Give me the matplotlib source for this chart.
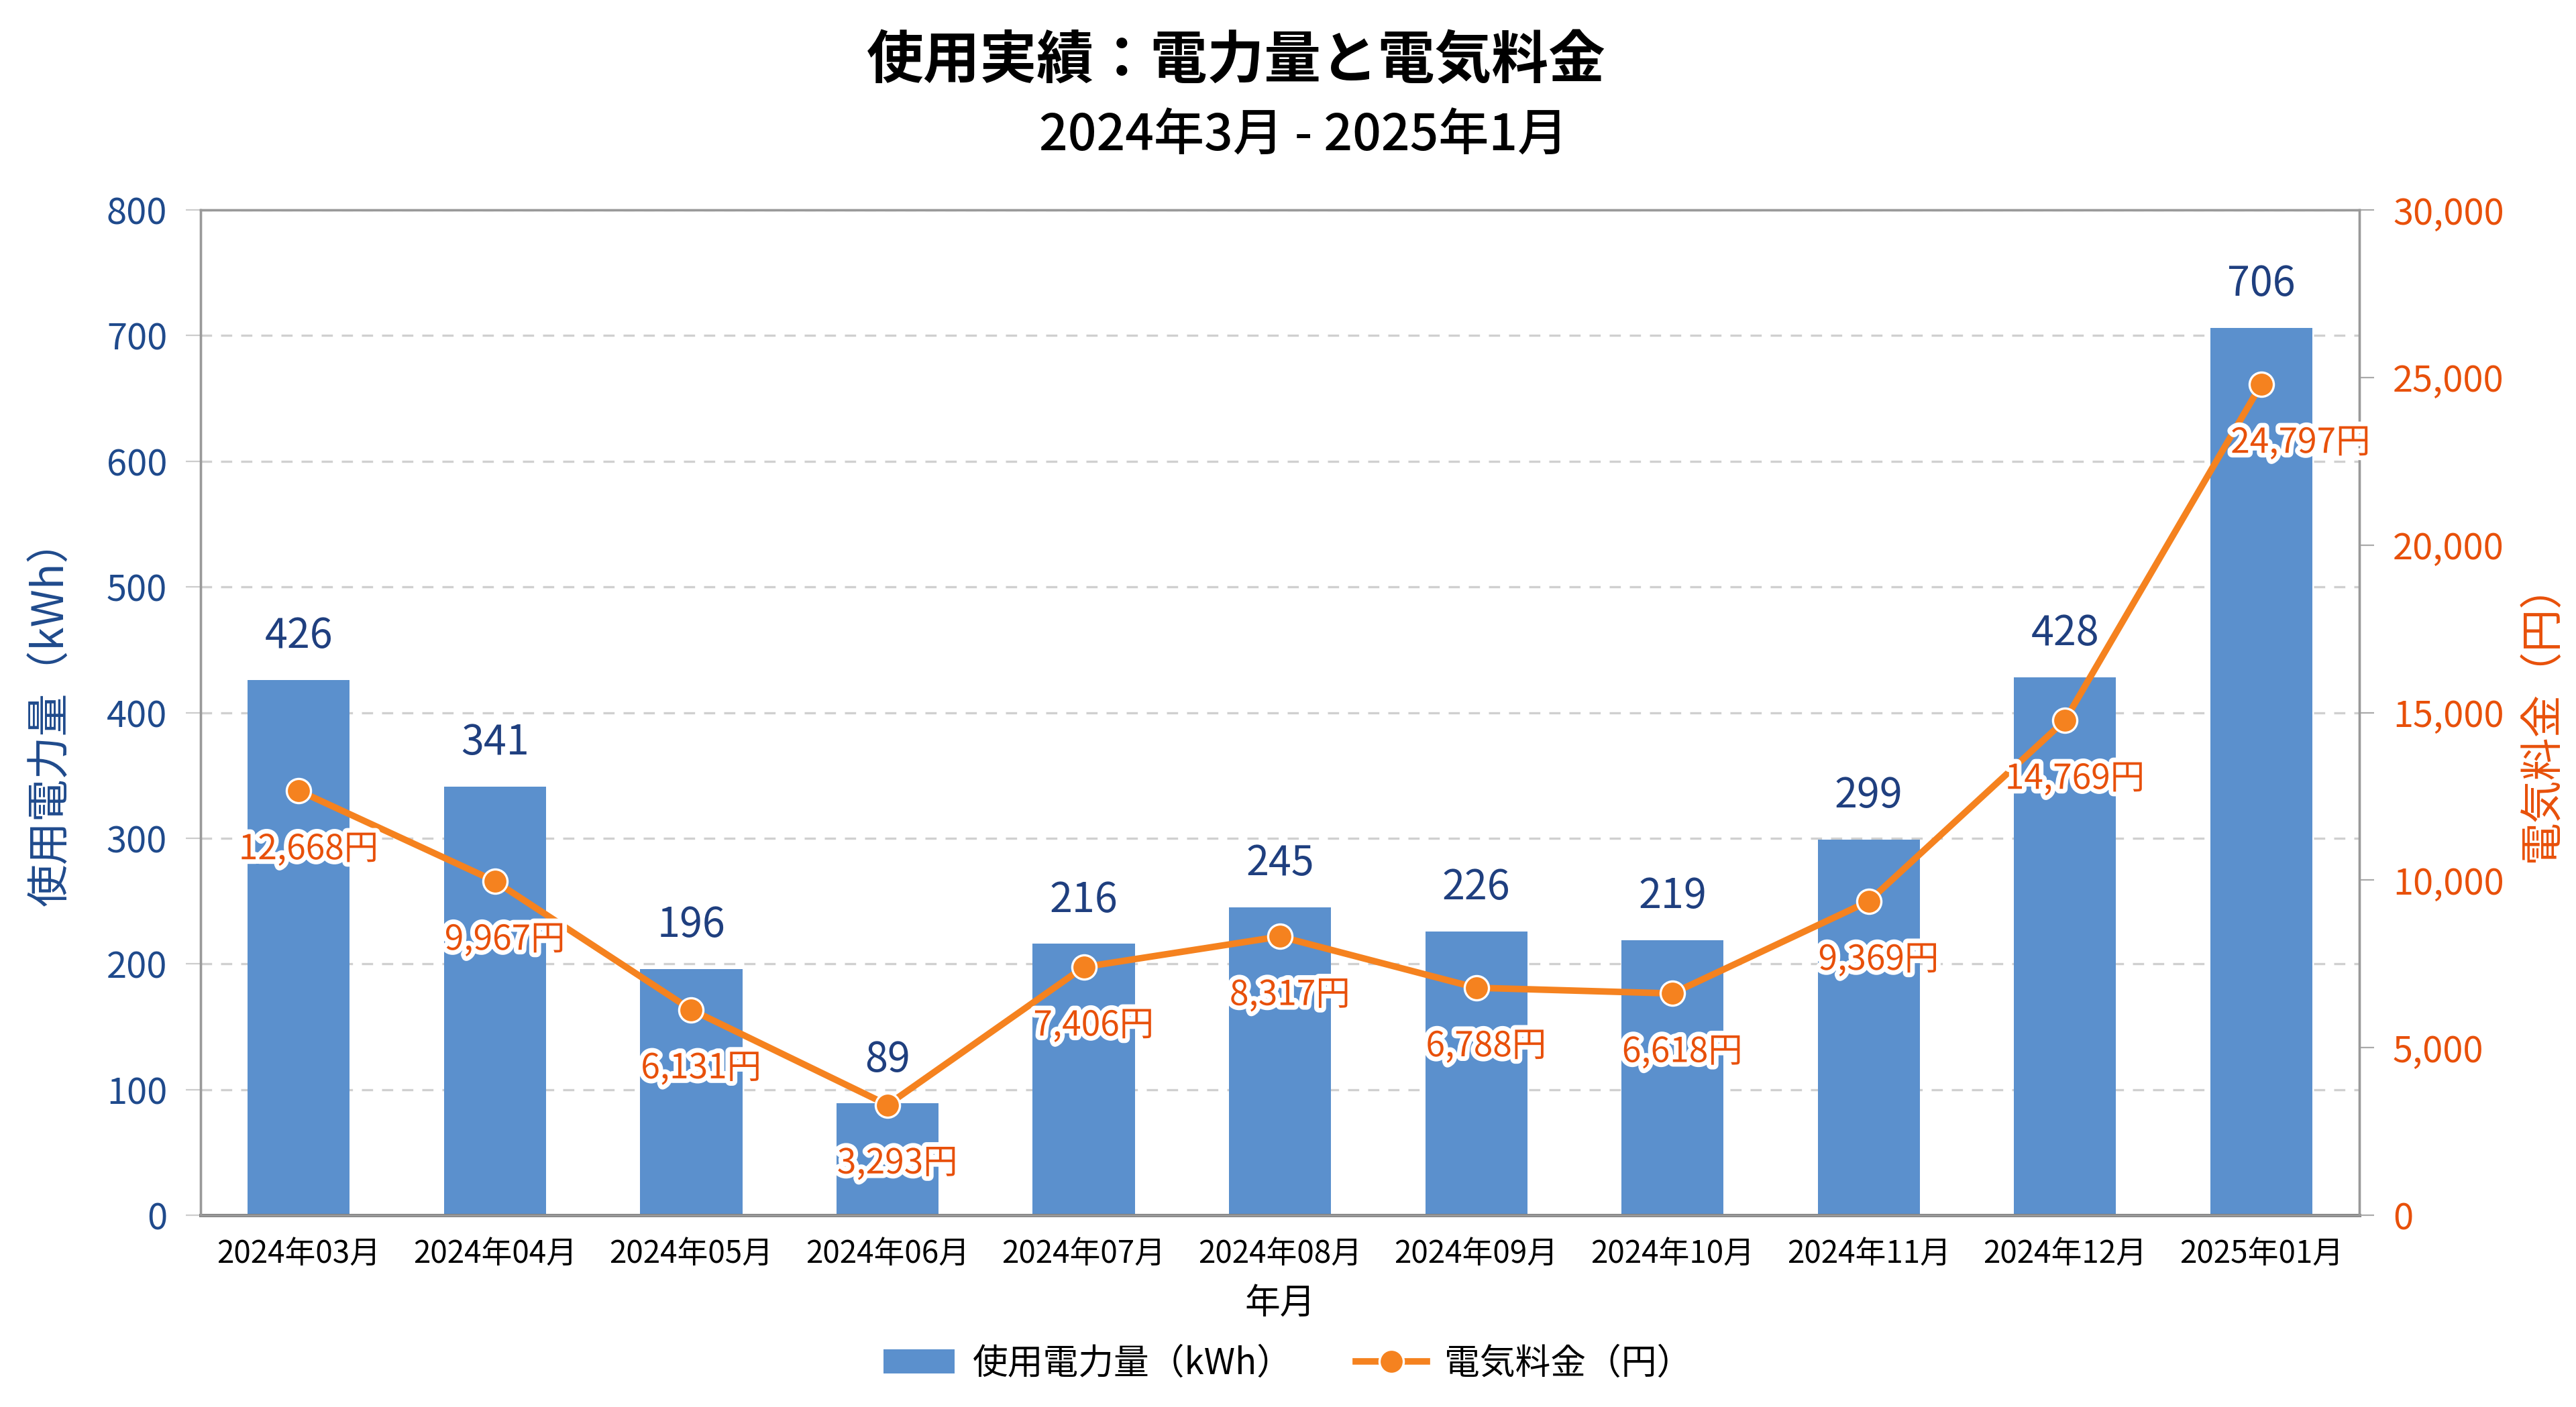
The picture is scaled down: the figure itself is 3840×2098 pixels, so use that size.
import numpy as np
import matplotlib.pyplot as plt
import matplotlib.patheffects as pe
from matplotlib.ticker import FuncFormatter

plt.rcParams['font.family'] = ['Noto Sans CJK JP', 'DejaVu Sans']

months = ["2024年03月", "2024年04月", "2024年05月", "2024年06月", "2024年07月", "2024年08月",
          "2024年09月", "2024年10月", "2024年11月", "2024年12月", "2025年01月"]
usage_kwh = [426, 341, 196, 89, 216, 245, 226, 219, 299, 428, 706]
cost_yen = [12668, 9967, 6131, 3293, 7406, 8317, 6788, 6618, 9369, 14769, 24797]

bar_color = "#5B90CD"
line_color = "#F5821F"
cost_text = "#E8500A"
left_color = "#1F4A8C"

fig = plt.figure(figsize=(19.2, 10.49), dpi=200)
ax = fig.add_axes([0.0779, 0.1363, 0.838, 0.7145])
ax2 = ax.twinx()

x = np.arange(len(months))
bars = ax.bar(x, usage_kwh, width=0.52, color=bar_color, zorder=2, label="使用電力量（kWh）")
ax.set_ylim(0, 800)
ax.set_xlim(-0.5, len(months) - 0.5)
ax.set_yticks(range(0, 801, 100))
ax.grid(axis="y", color="#d0d0d0", linestyle=(0, (5, 4)), linewidth=1.2, zorder=0)
ax.set_axisbelow(True)
ax.set_xticks(x)
ax.set_xticklabels(months, fontsize=16.5)
ax.tick_params(axis="x", length=0, pad=12)
ax.tick_params(axis="y", colors="#cccccc", labelcolor=left_color, labelsize=19.5, length=8, pad=10)
ax.set_ylabel("使用電力量（kWh）", fontsize=23, color=left_color, labelpad=18)
ax.set_xlabel("年月", fontsize=19, labelpad=8)

for xi, v in zip(x, usage_kwh):
    ax.text(xi, v + 18, str(v), ha="center", va="bottom", fontsize=22, color="#1F3F7F", zorder=5)

line, = ax2.plot(x, cost_yen, color=line_color, linewidth=3.5, marker="o", markersize=13,
                 markeredgecolor="white", markeredgewidth=1.2, zorder=4, label="電気料金（円）")
ax2.set_ylim(0, 30000)
ax2.set_yticks(range(0, 30001, 5000))
ax2.yaxis.set_major_formatter(FuncFormatter(lambda v, p: f"{int(v):,}"))
ax2.tick_params(axis="y", colors="#aaaaaa", labelcolor=cost_text, labelsize=19.5, length=8, pad=10)
ax2.set_ylabel("電気料金（円）", fontsize=23, color=cost_text, rotation=90, labelpad=8)

for i, (xi, v) in enumerate(zip(x, cost_yen)):
    dx = 0.2 if i == len(x) - 1 else 0.05
    t = ax2.text(xi + dx, v - 1750, f"{v:,}円", ha="center", va="center", fontsize=18.5,
                 color=cost_text, zorder=6)
    t.set_path_effects([pe.withStroke(linewidth=5, foreground="white")])

for a in (ax, ax2):
    for s in a.spines.values():
        s.set_color("#999999")
        s.set_linewidth(1.2)
ax.spines["bottom"].set_color("#777777")
ax.spines["bottom"].set_linewidth(1.8)
ax2.patch.set_visible(False)

fig.legend([bars, line], ["使用電力量（kWh）", "電気料金（円）"], loc="center",
           bbox_to_anchor=(0.5, 0.031), ncol=2, frameon=False, fontsize=19,
           handlelength=2.0, handletextpad=0.5, columnspacing=1.8)

fig.text(0.48, 0.957, "使用実績：電力量と電気料金", ha="center", va="center",
         fontsize=30.5, fontweight="bold")
fig.text(0.506, 0.903, "2024年3月 - 2025年1月", ha="center", va="center", fontsize=27,
         fontweight="medium")

fig.savefig("out.png", dpi=200, facecolor="white")
